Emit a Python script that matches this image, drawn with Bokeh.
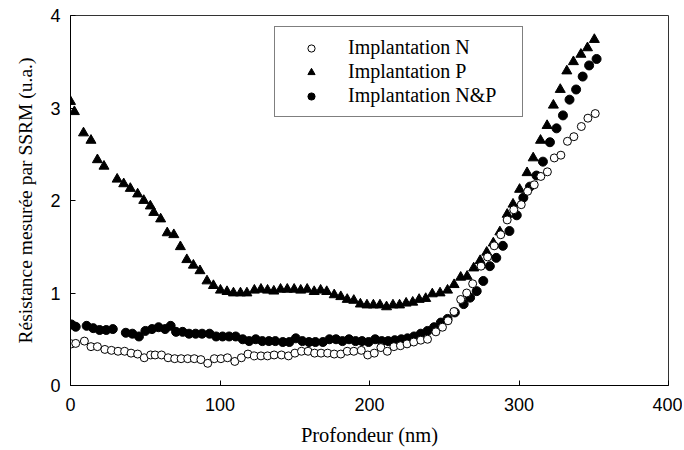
from bokeh.plotting import figure
from bokeh.models import ColumnDataSource, Legend, LegendItem, FixedTicker
from bokeh.embed import file_html
from bokeh.resources import INLINE

# Implantation N (open circles): (depth nm, resistance u.a.)
n_points = [
    (0.6, 0.45), (3.5, 0.455), (9.3, 0.48), (13.7, 0.42), (18, 0.42), (23, 0.39),
    (27.4, 0.38), (31.8, 0.37), (36.2, 0.37), (40.5, 0.35), (44.9, 0.34), (49.3, 0.30),
    (53.6, 0.33), (56.6, 0.33), (60.9, 0.33), (65.3, 0.30), (69.7, 0.29), (74, 0.29),
    (78.4, 0.29), (82.8, 0.29), (87.2, 0.28), (91.8, 0.24), (96.2, 0.29), (100.6, 0.29),
    (105, 0.30), (109.9, 0.26), (114.3, 0.30), (118.7, 0.34), (123, 0.32), (127.4, 0.32),
    (131.8, 0.32), (136.2, 0.33), (141.1, 0.33), (145.8, 0.32), (150.1, 0.35), (154.5, 0.37),
    (158.9, 0.37), (163.3, 0.35), (167.6, 0.35), (172, 0.35), (176.4, 0.34), (180.8, 0.34),
    (185.1, 0.37), (189.5, 0.37), (194.5, 0.38), (198.8, 0.33), (203.2, 0.35), (207.6, 0.41),
    (211.9, 0.37), (216.3, 0.42), (220.7, 0.43), (225.1, 0.45), (229.6, 0.47), (234.3, 0.49),
    (238.8, 0.50), (244.4, 0.58), (248.8, 0.63), (252.5, 0.70), (256.5, 0.80), (261, 0.93),
    (265, 1.00), (269, 1.10), (274.6, 1.29), (279, 1.39), (283.4, 1.51), (287.8, 1.63),
    (292.1, 1.79), (296.5, 1.90), (301.5, 1.955), (305.8, 2.10), (310.2, 2.17), (314.6, 2.26),
    (319, 2.31), (323.6, 2.46), (328, 2.49), (332.4, 2.64), (336.7, 2.69), (341.7, 2.80),
    (346.1, 2.89), (351, 2.94),
]

# Implantation P (filled triangles)
p_points = [
    (0, 3.07), (2.6, 2.96), (8.7, 2.73), (13.7, 2.65), (18, 2.44), (22.4, 2.37),
    (31.2, 2.23), (35.6, 2.18), (40, 2.13), (44.9, 2.07), (49, 2.00), (53.4, 1.94),
    (55.7, 1.87), (60.3, 1.80), (64.7, 1.65), (69.1, 1.63), (73.5, 1.50), (77.8, 1.36),
    (82.2, 1.30), (86.6, 1.24), (91.3, 1.13), (95.6, 1.08), (100.3, 1.03), (104.7, 1.015),
    (109, 1.00), (113.7, 1.00), (118, 1.00), (123, 1.03), (127.4, 1.04), (131.8, 1.03),
    (136, 1.02), (140.5, 1.04), (145, 1.04), (149.6, 1.04), (154, 1.03), (158.3, 1.04),
    (163, 1.015), (167.3, 1.03), (171.4, 1.015), (176.4, 0.98), (180.8, 0.96), (185.1, 0.93),
    (189.5, 0.92), (193.9, 0.88), (198.3, 0.87), (202.6, 0.87), (207, 0.87), (211.4, 0.85),
    (215.7, 0.87), (220.1, 0.87), (224.5, 0.89), (228.9, 0.90), (233.2, 0.93), (237.6, 0.94),
    (242, 0.99), (247.2, 1.00), (252.2, 1.03), (256.6, 1.09), (261, 1.17), (265.3, 1.18),
    (269.7, 1.27), (274, 1.35), (278.4, 1.44), (282.8, 1.54), (287.2, 1.66), (292.1, 1.85),
    (296, 1.96), (300.4, 2.12), (305.4, 2.30), (309.5, 2.46), (314.4, 2.65), (318.8, 2.81),
    (323, 3.03), (327.6, 3.20), (332, 3.40), (336.4, 3.50), (341.4, 3.58), (345.8, 3.65),
    (350.4, 3.74),
]

# Implantation N&P (filled circles)
np_points = [
    (0.6, 0.66), (3.5, 0.635), (10.8, 0.645), (15.2, 0.62), (19.5, 0.60), (23.9, 0.60),
    (28.3, 0.61), (37, 0.57), (41.4, 0.56), (45.8, 0.53), (50.1, 0.59), (54.5, 0.61),
    (58.9, 0.63), (63.3, 0.61), (67, 0.645), (70.6, 0.58), (75, 0.58), (79.3, 0.56),
    (83.7, 0.56), (88, 0.56), (93, 0.56), (97.4, 0.53), (101.7, 0.53), (106.1, 0.53),
    (110.5, 0.53), (115.2, 0.50), (119.5, 0.48), (123.9, 0.50), (128.3, 0.48), (132.7, 0.48),
    (137, 0.48), (142, 0.47), (146.4, 0.47), (150.7, 0.51), (155.1, 0.48), (159.5, 0.47),
    (163.8, 0.47), (168.8, 0.47), (173.2, 0.50), (177.6, 0.50), (181.9, 0.48), (186.3, 0.50),
    (190.7, 0.48), (195, 0.48), (199.4, 0.47), (203.8, 0.50), (208.2, 0.48), (212.5, 0.48),
    (216.9, 0.49), (221.3, 0.50), (225.4, 0.51), (229.8, 0.53), (234.3, 0.56), (238.8, 0.59),
    (243.2, 0.63), (247.7, 0.68), (252.2, 0.72), (257.1, 0.79), (263, 0.88), (267.3, 0.95),
    (271.7, 1.02), (276.1, 1.13), (280.5, 1.29), (284.8, 1.38), (289.2, 1.51), (293.6, 1.67),
    (298.5, 1.84), (302.9, 2.03), (307.3, 2.15), (311.7, 2.27), (316, 2.42), (320.7, 2.63),
    (325.1, 2.78), (329.4, 2.92), (333.8, 3.09), (338.2, 3.20), (342.6, 3.34), (346.9, 3.46),
    (351.9, 3.53),
]

x_ticks = [0, 100, 200, 300, 400]
y_ticks = [0, 1, 2, 3, 4]
series_labels = ["Implantation N", "Implantation P", "Implantation N&P"]


def src(points):
    return ColumnDataSource(dict(x=[a for a, _ in points], y=[b for _, b in points]))


p = figure(frame_width=598, frame_height=370, x_range=(0, 400), y_range=(0, 4),
           output_backend="svg", toolbar_location=None,
           min_border_left=70, min_border_top=15, min_border_right=14, min_border_bottom=60)
p.background_fill_color = "white"
p.border_fill_color = "white"
p.outline_line_color = "#333333"
p.outline_line_width = 1
p.xgrid.visible = False
p.ygrid.visible = False

rp = p.scatter("x", "y", source=src(p_points), marker="triangle", size=10,
               fill_color="black", line_color="black")
rnp = p.scatter("x", "y", source=src(np_points), marker="circle", size=9,
                fill_color="black", line_color="black")
rn = p.scatter("x", "y", source=src(n_points), marker="circle", size=8,
               fill_color="white", line_color="black", line_width=1)

for ax, ticks in ((p.xaxis[0], x_ticks), (p.yaxis[0], y_ticks)):
    ax.ticker = FixedTicker(ticks=ticks)
    ax.minor_tick_line_color = None
    ax.major_tick_in = 5
    ax.major_tick_out = 0
    ax.axis_line_color = "black"
    ax.major_tick_line_color = "black"
    ax.major_label_text_font = "Liberation Sans"
    ax.major_label_text_font_size = "18px"
    ax.major_label_text_color = "black"
    ax.axis_label_text_font = "Liberation Serif"
    ax.axis_label_text_font_style = "normal"
    ax.axis_label_text_color = "black"

p.xaxis.axis_label = "Profondeur (nm)"
p.xaxis.major_label_standoff = 12
p.xaxis.axis_label_standoff = 10
p.xaxis.axis_label_text_font_size = "20.5px"
p.yaxis.axis_label = "Résistance mesurée par SSRM (u.a.)"
p.yaxis.major_label_standoff = 10
p.yaxis.axis_label_standoff = 11
p.yaxis.axis_label_text_font_size = "19.5px"

legend = Legend(items=[LegendItem(label=series_labels[0], renderers=[rn]),
                       LegendItem(label=series_labels[1], renderers=[rp]),
                       LegendItem(label=series_labels[2], renderers=[rnp])],
                location=(204, 268))
legend.border_line_color = "black"
legend.border_line_width = 1
legend.background_fill_color = "white"
legend.background_fill_alpha = 1
legend.padding = 9
legend.spacing = 1
legend.glyph_width = 54
legend.glyph_height = 18
legend.label_height = 23
legend.label_width = 165
legend.label_standoff = 10
legend.margin = 0
legend.label_text_font = "Liberation Serif"
legend.label_text_font_size = "20px"
legend.label_text_color = "black"
p.add_layout(legend)

open("out.html", "w").write(file_html(p, INLINE))
